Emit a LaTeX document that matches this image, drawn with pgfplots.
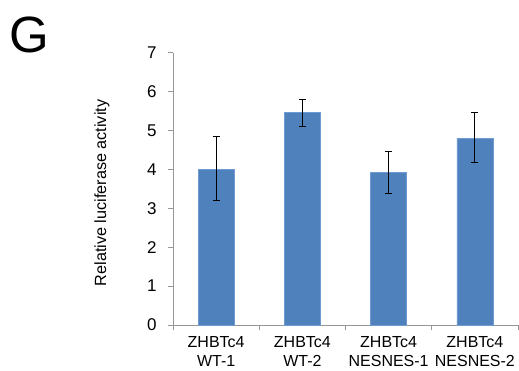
\documentclass[border=0pt]{standalone}
\usepackage{fontspec}
\setmainfont{Liberation Sans}
\usepackage{pgfplots}
\pgfplotsset{compat=1.18}
\definecolor{barblue}{RGB}{79,129,189}
\definecolor{baredge}{RGB}{110,155,210}
\definecolor{axgray}{RGB}{150,150,150}
\begin{document}
\begin{tikzpicture}
\path[use as bounding box] (0,0) rectangle (519pt,371pt);
\node[anchor=center, inner sep=0pt] at (29pt,336pt) {\fontsize{51}{51}\selectfont G};
\begin{axis}[
  at={(173pt,46pt)}, anchor=south west,
  scale only axis, width=345pt, height=272.3pt,
  xmin=-0.5, xmax=3.5, ymin=0, ymax=7,
  axis x line*=bottom, axis y line*=left,
  axis line style={axgray, line width=0.8pt},
  xtick={0,1,2,3},
  xticklabels={{ZHBTc4\\WT-1},{ZHBTc4\\WT-2},{ZHBTc4\\NESNES-1},{ZHBTc4\\NESNES-2}},
  xticklabel style={align=center, font=\fontsize{16}{18.5}\selectfont, yshift=-3pt},
  major x tick style={draw=none},
  minor xtick={-0.5,0.5,1.5,2.5,3.5},
  minor x tick style={axgray, line width=0.8pt},
  minor tick length=5pt,
  ytick={0,1,...,7},
  yticklabel style={font=\fontsize{17}{17}\selectfont, xshift=-8pt},
  major y tick style={axgray, line width=0.8pt},
  major tick length=5pt,
  tick align=outside,
  /pgf/number format/assume math mode=true,
  ylabel={Relative luciferase activity},
  ylabel style={font=\fontsize{16.2}{16.2}\selectfont, at={(axis description cs:-0.206,0.485)}, anchor=center},
  clip=false,
]
\addplot[ybar, bar width=36pt, bar shift=0pt, fill=barblue, draw=baredge, line width=0.6pt,
  error bars/.cd, y dir=both, y explicit,
  error bar style={black, line width=0.9pt},
  error mark options={black, line width=0.9pt, mark size=3.5pt, rotate=90}]
coordinates {
  (0,4.01) += (0,0.84) -= (0,0.81)
  (1,5.46) += (0,0.34) -= (0,0.36)
  (2,3.92) += (0,0.53) -= (0,0.55)
  (3,4.80) += (0,0.66) -= (0,0.63)
};
\end{axis}
\end{tikzpicture}
\end{document}
